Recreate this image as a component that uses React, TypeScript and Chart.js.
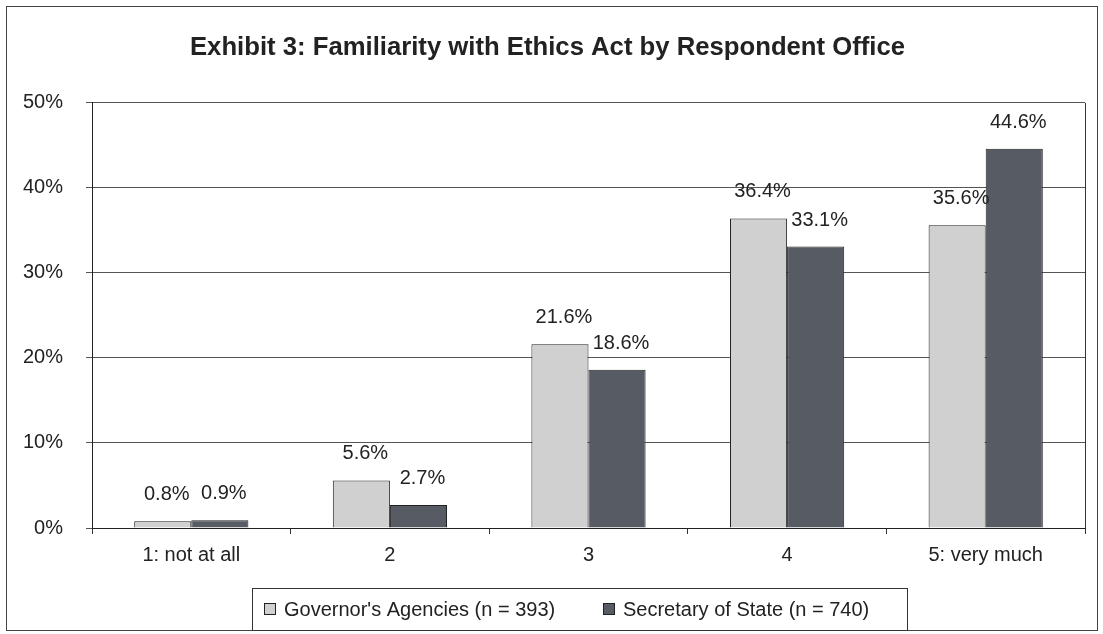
import React, { useEffect, useRef } from "react";
import { Chart, registerables } from "chart.js";

Chart.register(...registerables);

const categories = ["1: not at all", "2", "3", "4", "5: very much"];
const governorValues = [0.8, 5.6, 21.6, 36.4, 35.6];
const secretaryValues = [0.9, 2.7, 18.6, 33.1, 44.6];
const seriesLabels = ["Governor's Agencies (n = 393)", "Secretary of State (n = 740)"];
const yTicks = [0, 10, 20, 30, 40, 50];
const titleText = "Exhibit 3: Familiarity with Ethics Act by Respondent Office";

const FONT = "'Liberation Sans', Arial, sans-serif";
const LIGHT = "#d0d0d0";
const DARK = "#575b64";

const decorPlugin = {
  id: "decor",
  afterDatasetsDraw(chart: any) {
    const ctx = chart.ctx;
    ctx.save();
    ctx.font = `20px ${FONT}`;
    ctx.fillStyle = "#222";
    ctx.textAlign = "center";
    ctx.textBaseline = "alphabetic";
    chart.data.datasets.forEach((ds: any, i: number) => {
      const meta = chart.getDatasetMeta(i);
      meta.data.forEach((bar: any, j: number) => {
        const v = ds.data[j];
        ctx.fillText(v.toFixed(1) + "%", bar.x + 4, bar.y - 21);
      });
    });
    ctx.restore();
  },
  afterDraw(chart: any) {
    const ctx = chart.ctx;
    const a = chart.chartArea;
    ctx.save();
    // plot frame right edge
    ctx.strokeStyle = "#333";
    ctx.lineWidth = 1;
    ctx.beginPath();
    ctx.moveTo(Math.round(a.right) + 0.5, a.top);
    ctx.lineTo(Math.round(a.right) + 0.5, a.bottom);
    ctx.stroke();
    // outer border
    ctx.strokeStyle = "#444";
    ctx.strokeRect(6.5, 6.5, 1091, 624);
    // legend
    const lx = 252, ly = 588, lw = 655, lh = 42;
    ctx.strokeStyle = "#333";
    ctx.strokeRect(lx + 0.5, ly + 0.5, lw, lh);
    ctx.font = `20px ${FONT}`;
    ctx.textBaseline = "middle";
    ctx.textAlign = "left";
    const cy = ly + lh / 2;
    const starts = [264, 603];
    chart.data.datasets.forEach((ds: any, i: number) => {
      const x = starts[i];
      ctx.fillStyle = ds.backgroundColor;
      ctx.fillRect(x, cy - 6, 12, 12);
      ctx.strokeStyle = "#222";
      ctx.strokeRect(x + 0.5, cy - 5.5, 11, 11);
      ctx.fillStyle = "#222";
      ctx.fillText(ds.label, x + 20, cy + 1);
    });
    ctx.restore();
  },
};

export default function App() {
  const ref = useRef<HTMLCanvasElement>(null);
  useEffect(() => {
    if (!ref.current) return;
    const chart = new Chart(ref.current, {
      type: "bar",
      data: {
        labels: categories,
        datasets: [
          {
            label: seriesLabels[0],
            data: governorValues,
            backgroundColor: LIGHT,
            borderColor: "#222",
            borderWidth: 1,
            categoryPercentage: 0.575,
            barPercentage: 1,
          },
          {
            label: seriesLabels[1],
            data: secretaryValues,
            backgroundColor: DARK,
            borderColor: "#222",
            borderWidth: 1,
            categoryPercentage: 0.575,
            barPercentage: 1,
          },
        ],
      },
      options: {
        animation: false,
        responsive: false,
        maintainAspectRatio: false,
        layout: { padding: { top: 6, left: 10, right: 18, bottom: 64 } },
        plugins: {
          legend: { display: false },
          tooltip: { enabled: false },
          title: {
            display: true,
            text: titleText,
            color: "#222",
            font: { family: FONT, size: 25.7, weight: "bold" },
            padding: { top: 26, bottom: 40 },
          },
        },
        scales: {
          x: {
            grid: {
              display: true,
              drawOnChartArea: false,
              drawTicks: true,
              tickLength: 6,
              color: "#333",
              offset: true,
            },
            border: { display: true, color: "#222", width: 1 },
            ticks: {
              color: "#222",
              font: { family: FONT, size: 20 },
              padding: 9,
            },
            afterFit(scale: any) {
              scale.height = 42;
            },
          },
          y: {
            min: 0,
            max: 50,
            afterBuildTicks(scale: any) {
              scale.ticks = yTicks.map((v) => ({ value: v }));
            },
            grid: {
              color: "#555",
              lineWidth: 1,
              tickLength: 6,
            },
            border: { display: true, color: "#222", width: 1 },
            ticks: {
              color: "#222",
              font: { family: FONT, size: 20 },
              padding: 23,
              callback: (v: any) => v + "%",
            },
            afterFit(scale: any) {
              scale.width = 82;
            },
          },
        },
      },
      plugins: [decorPlugin],
    });
    return () => chart.destroy();
  }, []);
  return (
    <div style={{ position: "fixed", left: 0, top: 0, width: 1103, height: 634, background: "#fff" }}>
      <canvas ref={ref} width={1103} height={634} style={{ width: 1103, height: 634 }} />
    </div>
  );
}
